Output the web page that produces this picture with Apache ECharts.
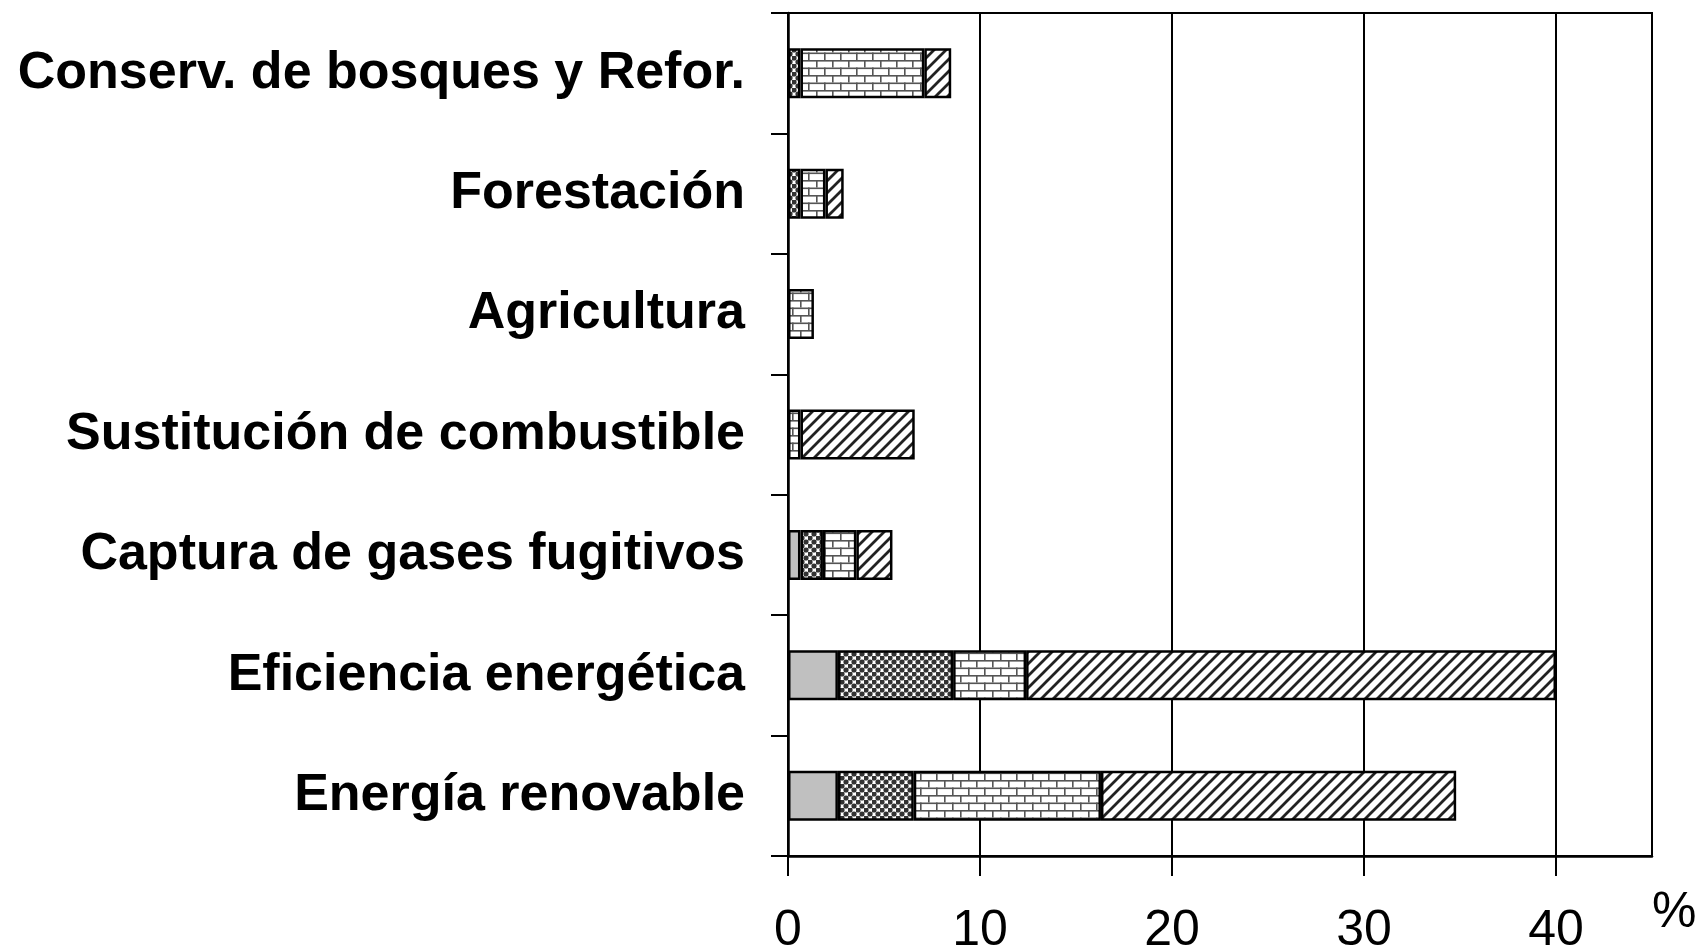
<!DOCTYPE html>
<html>
<head>
<meta charset="utf-8">
<script src="https://cdn.jsdelivr.net/npm/echarts@6/dist/echarts.min.js"></script>
<style>html,body{margin:0;padding:0;background:#fff}#c{width:1697px;height:947px}</style>
</head>
<body>
<div id="c"></div>
<script>
// Categories listed bottom to top
const categories = ['Energía renovable','Eficiencia energética','Captura de gases fugitivos','Sustitución de combustible','Agricultura','Forestación','Conserv. de bosques y Refor.'];
const graySeg   = [2.6, 2.6, 0.65, null, null, null, null];
const dotSeg    = [3.95, 6.0, 1.17, null, null, 0.65, 0.65];
const brickSeg  = [9.75, 3.8, 1.74, 0.65, 1.35, 1.3, 6.45];
const hatchSeg  = [18.5, 27.6, 1.88, 5.95, null, 0.95, 1.4];
const xTicks = [0, 10, 20, 30, 40];
const xMax = 45;

function tile(w, h, draw) {
  const c = document.createElement('canvas');
  c.width = w; c.height = h;
  const ctx = c.getContext('2d');
  ctx.fillStyle = '#fff'; ctx.fillRect(0, 0, w, h);
  draw(ctx);
  return { image: c, repeat: 'repeat' };
}
const dotPattern = tile(8, 8, ctx => {
  ctx.fillStyle = '#333';
  [[2,2],[6,6],[-2,6],[10,6],[6,-2],[6,10],[-2,-2],[10,10],[10,-2],[-2,10]].forEach(([x,y]) => {
    ctx.beginPath(); ctx.arc(x, y, 2.6, 0, Math.PI*2); ctx.fill();
  });
});
const brickPattern = tile(16, 15, ctx => {
  ctx.fillStyle = '#555';
  ctx.fillRect(0, 0, 16, 1.6);
  ctx.fillRect(0, 7.5, 16, 1.6);
  ctx.fillRect(0, 0, 1.6, 7.5);
  ctx.fillRect(8, 7.5, 1.6, 7.5);
});
const hatchPattern = tile(12, 12, ctx => {
  ctx.strokeStyle = '#222'; ctx.lineWidth = 2.8;
  ctx.beginPath();
  ctx.moveTo(-2, 14); ctx.lineTo(14, -2);
  ctx.moveTo(-8, 8); ctx.lineTo(8, -8);
  ctx.moveTo(4, 20); ctx.lineTo(20, 4);
  ctx.stroke();
});

const barStyle = (color) => ({ color: color, borderColor: '#000', borderWidth: 2.5 });
const mk = (name, data, color) => ({
  name, type: 'bar', stack: 'total', data, barWidth: 50,
  itemStyle: barStyle(color), emphasis: { disabled: true }
});

const chart = echarts.init(document.getElementById('c'), null, { renderer: 'canvas' });
chart.setOption({
  animation: false,
  backgroundColor: '#fff',
  grid: { left: 788, right: 45, top: 13, bottom: 91, containLabel: false, outerBoundsMode: 'none', show: true, borderColor: '#000', borderWidth: 2, backgroundColor: 'transparent' },
  xAxis: {
    type: 'value', min: 0, max: xMax, interval: 10,
    axisLine: { show: true, lineStyle: { color: '#000', width: 2.5 } },
    axisTick: { show: true, length: 20, customValues: xTicks, lineStyle: { color: '#000', width: 2 } },
    axisLabel: { customValues: xTicks, color: '#000', fontFamily: 'Liberation Sans, Arial, sans-serif', fontSize: 50, margin: 50 },
    splitLine: { show: true, lineStyle: { color: '#000', width: 2 } }
  },
  yAxis: {
    type: 'category', data: categories,
    axisLine: { show: true, lineStyle: { color: '#000', width: 2.5 } },
    axisTick: { show: true, length: 17, lineStyle: { color: '#000', width: 2 } },
    axisLabel: { color: '#000', fontFamily: 'Liberation Sans, Arial, sans-serif', fontWeight: 'bold', fontSize: 52, margin: 43 },
    splitLine: { show: false }
  },
  graphic: [{
    type: 'text', left: 1652, top: 888,
    style: { text: '%', font: '50px "Liberation Sans", Arial, sans-serif', fill: '#000' }
  }],
  series: [
    mk('s1', graySeg, '#c0c0c0'),
    mk('s2', dotSeg, dotPattern),
    mk('s3', brickSeg, brickPattern),
    mk('s4', hatchSeg, hatchPattern)
  ]
});
</script>
</body>
</html>
